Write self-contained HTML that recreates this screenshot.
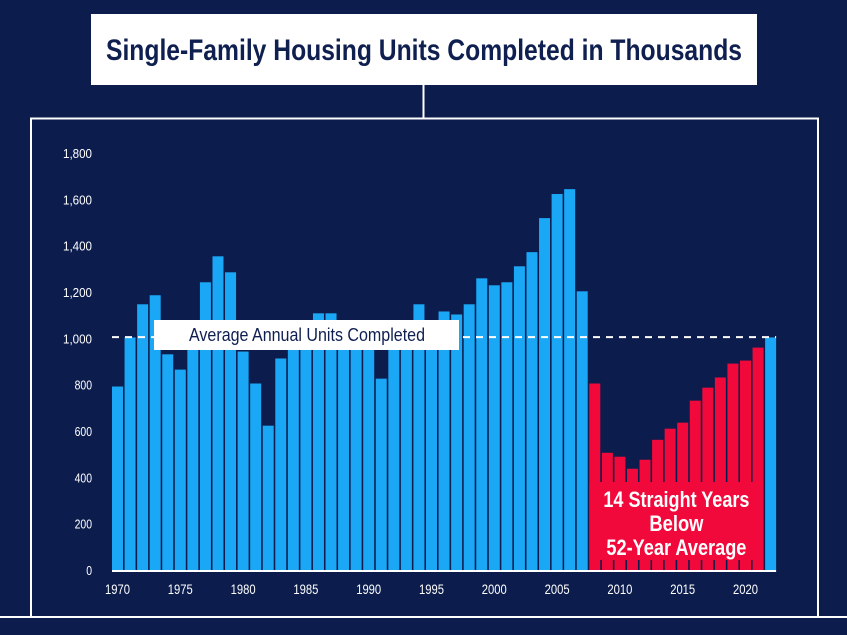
<!DOCTYPE html>
<html><head><meta charset="utf-8"><style>
html,body{margin:0;padding:0;background:#0c1d4d;}
svg{display:block;font-family:"Liberation Sans Narrow","Liberation Sans",sans-serif;}
</style></head><body>
<svg id="chart" width="847" height="635" viewBox="0 0 847 635" xmlns="http://www.w3.org/2000/svg">
<rect x="0" y="0" width="847" height="635" fill="#0c1d4d"/>
<rect x="91" y="14" width="666" height="71" fill="#ffffff"/>
<text x="424" y="60" text-anchor="middle" font-size="30" font-weight="bold" fill="#0f1f50" textLength="636" lengthAdjust="spacingAndGlyphs">Single-Family Housing Units Completed in Thousands</text>
<line x1="423.5" y1="85" x2="423.5" y2="118" stroke="#fff" stroke-width="2"/>
<path d="M31 617 V118.5 H818 V617" fill="none" stroke="#fff" stroke-width="2"/>
<line x1="0" y1="617" x2="847" y2="617" stroke="#fff" stroke-width="2"/>
<g id="yaxis"></g><g id="bars"></g><g id="xaxis"></g><g id="overlay"></g>
</svg>
<script>
const years = [];
for (let y = 1970; y <= 2022; y++) years.push(y);
const units = [792,1004,1147,1186,931,865,1030,1242,1354,1285,943,805,623,913,1010,1060,1108,1108,1070,1010,960,826,955,1025,1147,1055,1116,1103,1147,1259,1229,1242,1311,1372,1519,1623,1644,1203,805,506,489,437,476,562,610,636,731,787,831,891,904,960,1004];
const belowAvgYears = [2008,2009,2010,2011,2012,2013,2014,2015,2016,2017,2018,2019,2020,2021];
const yTicks = [0,200,400,600,800,1000,1200,1400,1600,1800];
const xTicks = [1970,1975,1980,1985,1990,1995,2000,2005,2010,2015,2020];
const averageValue = 1005;

const NS = "http://www.w3.org/2000/svg";
const y0 = 570, yTop = 153, yMax = 1800;
const yScale = v => y0 - (v / yMax) * (y0 - yTop);
const xLeft = 112, pitch = 12.56, barW = 11;
const xScale = yr => xLeft + (yr - 1970) * pitch;
function mk(tag, attrs, parent) {
  const e = document.createElementNS(NS, tag);
  for (const k in attrs) e.setAttribute(k, attrs[k]);
  parent.appendChild(e);
  return e;
}
const yG = document.getElementById('yaxis');
yTicks.forEach(t => {
  const s = t.toLocaleString('en-US');
  const tx = mk('text', {x: 92, y: yScale(t) + 5, 'text-anchor': 'end', 'font-size': 13, fill: '#fff', textLength: s.length * 5.8, lengthAdjust: 'spacingAndGlyphs'}, yG);
  tx.textContent = s;
  
  
});
const bG = document.getElementById('bars');
years.forEach((yr, i) => {
  const v = units[i];
  const red = belowAvgYears.includes(yr);
  const r = mk('rect', {x: xScale(yr), y: yScale(v), width: barW, height: y0 - yScale(v), fill: red ? '#f0093a' : '#1aa7f5'}, bG);
  
  
});
const xG = document.getElementById('xaxis');
mk('line', {x1: xLeft, y1: y0 + 1, x2: xScale(2022) + barW, y2: y0 + 1, stroke: '#fff', 'stroke-width': 2}, xG);
xTicks.forEach(t => {
  const tx = mk('text', {x: xScale(t) + barW / 2, y: 594, 'text-anchor': 'middle', 'font-size': 14, fill: '#fff', textLength: 25, lengthAdjust: 'spacingAndGlyphs'}, xG);
  tx.textContent = t;
  
  
});
const oG = document.getElementById('overlay');
const ay = yScale(averageValue);
const avgLine = mk('line', {x1: 112, y1: ay, x2: xScale(2022) + barW, y2: ay, stroke: '#fff', 'stroke-width': 2, 'stroke-dasharray': '7,6'}, oG);


const lb = mk('rect', {x: 154, y: 320, width: 305, height: 30, fill: '#fff'}, oG);


const lt = mk('text', {x: 307, y: 341, 'text-anchor': 'middle', 'font-size': 18, fill: '#0f1f50', textLength: 236, lengthAdjust: 'spacingAndGlyphs'}, oG);
lt.textContent = 'Average Annual Units Completed';


const x1 = xScale(belowAvgYears[0]), x2 = xScale(belowAvgYears[belowAvgYears.length - 1]) + barW;
const rb = mk('rect', {x: x1, y: 482, width: x2 - x1, height: 78, fill: '#f0093a'}, oG);


const annLines = ['14 Straight Years', 'Below', '52-Year Average'];
const annWidths = [146, 54, 140];
annLines.forEach((s, i) => {
  const t = mk('text', {x: (x1 + x2) / 2, y: 507 + i * 24, 'text-anchor': 'middle', 'font-size': 22, 'font-weight': 'bold', fill: '#fff', textLength: annWidths[i], lengthAdjust: 'spacingAndGlyphs'}, oG);
  t.textContent = s;
  
  
});
</script>
</body></html>
